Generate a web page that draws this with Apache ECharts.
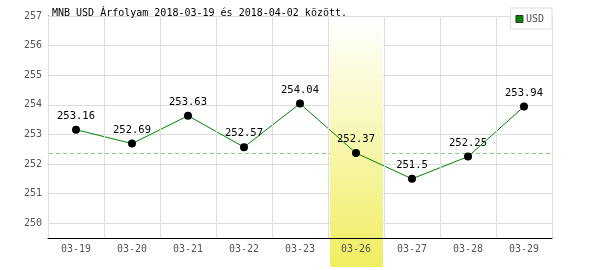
<!DOCTYPE html>
<html><head><meta charset="utf-8">
<script src="https://cdn.jsdelivr.net/npm/echarts@6/dist/echarts.min.js"></script>
<style>html,body{margin:0;padding:0;background:#fff}#c{width:600px;height:270px}</style>
</head><body><div id="c"></div>
<script>
const categories = ['03-19','03-20','03-21','03-22','03-23','03-26','03-27','03-28','03-29'];
const usdValues = [253.16, 252.69, 253.63, 252.57, 254.04, 252.37, 251.5, 252.25, 253.94];
const refValue = 252.37;
const highlightCategory = '03-26';
const titleText = 'MNB USD Árfolyam 2018-03-19 és 2018-04-02 között.';
const yMin = 249.5, yMax = 257;

const mono = 'DejaVu Sans Mono';
const chart = echarts.init(document.getElementById('c'), null, {renderer: 'canvas'});
chart.setOption({
  animation: false,
  backgroundColor: '#fff',
  title: {text: titleText, left: 47, top: 3, textStyle: {fontFamily: mono, fontSize: 10, fontWeight: 'normal', color: '#000'}},
  legend: {
    data: [{name: 'USD', itemStyle: {color: '#080', borderColor: '#333', borderWidth: 1}}],
    right: 48, top: 8, orient: 'horizontal',
    backgroundColor: '#fff', borderColor: '#ddd', borderWidth: 1, padding: [6, 8, 5, 5],
    itemWidth: 7, itemHeight: 7, itemGap: 2, icon: 'rect',
    textStyle: {fontFamily: mono, fontSize: 10, color: '#555', padding: [0,0,0,-2]}
  },
  grid: {left: 48, right: 48, top: 16, bottom: 32, containLabel: false},
  xAxis: {
    type: 'category', data: categories, boundaryGap: true, z: 5,
    axisLine: {lineStyle: {color: '#000', width: 1}},
    axisTick: {show: false},
    axisLabel: {fontFamily: mono, fontSize: 10, color: '#555', margin: 6},
    splitLine: {show: true, lineStyle: {color: '#ddd', width: 1}}
  },
  yAxis: {
    type: 'value', min: yMin, max: yMax, splitNumber: 8,
    axisLine: {show: true, lineStyle: {color: '#000', width: 1}},
    axisTick: {show: false},
    axisLabel: {fontFamily: mono, fontSize: 10, color: '#555', margin: 6,
      formatter: v => Number.isInteger(v) ? String(v) : ''},
    splitLine: {show: true, lineStyle: {color: '#ddd', width: 1}}
  },
  series: [
    {
      name: 'USD', type: 'line', data: usdValues, z: 3,
      color: '#080',
      lineStyle: {color: '#080', width: 1},
      symbol: 'circle', symbolSize: 8,
      itemStyle: {color: '#000', borderWidth: 0},
      label: {show: true, position: 'top', distance: 4, fontFamily: mono, fontSize: 10.5, color: '#000'}
    }
  ]
});

function drawExtras() {
  const i = categories.indexOf(highlightCategory);
  const c = chart.convertToPixel({xAxisIndex: 0}, categories[i]);
  const n = chart.convertToPixel({xAxisIndex: 0}, categories[i + 1]);
  const step = n - c;
  const top = chart.convertToPixel({yAxisIndex: 0}, yMax);
  const x0 = chart.convertToPixel({xAxisIndex: 0}, categories[0]) - step / 2;
  const x1 = chart.convertToPixel({xAxisIndex: 0}, categories[categories.length - 1]) + step / 2;
  const yr = Math.round(chart.convertToPixel({yAxisIndex: 0}, refValue)) + 0.5;
  chart.setOption({
    graphic: [
      {
        type: 'line', z: 0, silent: true,
        shape: {x1: x0 + 1, y1: yr, x2: x1, y2: yr},
        style: {stroke: '#8c8', lineWidth: 1, lineDash: [4, 3]}
      },
      {
        type: 'rect', z: 1, silent: true,
        shape: {x: c - step / 2 + 2, y: top + 2, width: step - 3, height: 270 - 3 - top - 2},
        style: {fill: new echarts.graphic.LinearGradient(0, 0, 0, 1, [
          {offset: 0, color: '#ffffff'}, {offset: 1, color: '#f0ee60'}])}
      }
    ]
  });
}
drawExtras();
</script></body></html>
